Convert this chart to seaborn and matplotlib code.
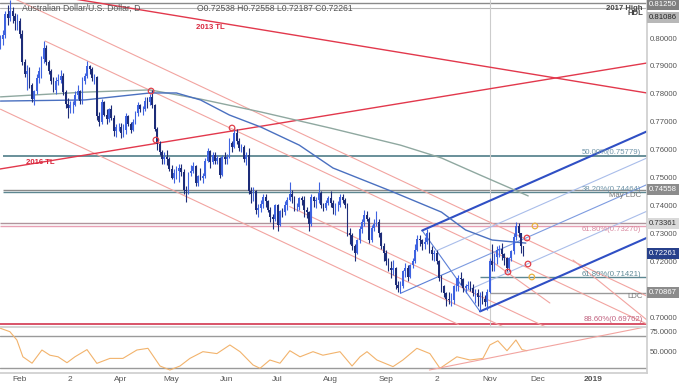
import matplotlib
matplotlib.use("Agg")
import matplotlib.pyplot as plt
import matplotlib.transforms as mtransforms
import numpy as np
import pandas as pd
import seaborn as sns

# AUD/USD daily, 22 Jan - 21 Nov 2018, prices in pips (x 1e-4); open = previous close
first_open = 7980
closes = [7995, 8010, 8085, 8070, 8095, 8080, 8060, 8060, 8015, 7915,
          7870, 7880, 7830, 7780, 7810, 7855, 7880, 7925, 7965, 7915,
          7880, 7845, 7815, 7845, 7850, 7865, 7805, 7765, 7750, 7760,
          7760, 7795, 7810, 7775, 7845, 7865, 7900, 7890, 7855, 7860,
          7720, 7700, 7770, 7725, 7710, 7745, 7715, 7665, 7680, 7680,
          7660, 7670, 7720, 7690, 7670, 7700, 7730, 7760, 7745, 7745,
          7775, 7770, 7790, 7760, 7675, 7620, 7590, 7565, 7575, 7565,
          7530, 7500, 7515, 7525, 7535, 7520, 7455, 7450, 7515, 7525,
          7540, 7480, 7505, 7500, 7505, 7560, 7595, 7555, 7580, 7560,
          7570, 7510, 7575, 7565, 7575, 7625, 7610, 7660, 7630, 7605,
          7610, 7565, 7580, 7450, 7440, 7450, 7385, 7390, 7405, 7430,
          7415, 7385, 7360, 7350, 7400, 7330, 7380, 7375, 7400, 7420,
          7440, 7430, 7395, 7395, 7425, 7420, 7385, 7375, 7335, 7430,
          7415, 7420, 7445, 7400, 7390, 7410, 7425, 7410, 7390, 7400,
          7400, 7430, 7420, 7400, 7300, 7295, 7255, 7230, 7275, 7315,
          7340, 7365, 7350, 7275, 7320, 7335, 7340, 7300, 7255, 7230,
          7200, 7175, 7170, 7175, 7115, 7105, 7110, 7165, 7175, 7145,
          7185, 7200, 7240, 7280, 7275, 7260, 7270, 7300, 7240, 7225,
          7230, 7200, 7140, 7110, 7085, 7065, 7060, 7060, 7110, 7110,
          7140, 7135, 7105, 7110, 7115, 7105, 7085, 7085, 7070, 7075,
          7065, 7055, 7090, 7200, 7185, 7215, 7240, 7245, 7225, 7210,
          7175, 7210, 7235, 7285, 7325, 7300, 7253.8, 7226.1]
highs = [8010, 8030, 8095, 8120, 8136, 8110, 8090, 8085, 8070, 8030,
         7925, 7905, 7895, 7840, 7815, 7870, 7895, 7935, 7988, 7975,
         7920, 7890, 7860, 7860, 7870, 7885, 7875, 7815, 7785, 7775,
         7775, 7810, 7830, 7815, 7860, 7875, 7917, 7905, 7895, 7870,
         7865, 7735, 7780, 7775, 7745, 7750, 7760, 7725, 7690, 7695,
         7695, 7690, 7730, 7725, 7700, 7710, 7740, 7770, 7765, 7755,
         7790, 7790, 7800, 7813, 7765, 7680, 7630, 7600, 7590, 7600,
         7575, 7545, 7530, 7540, 7550, 7550, 7530, 7470, 7520, 7545,
         7555, 7545, 7510, 7535, 7515, 7570, 7605, 7600, 7590, 7590,
         7580, 7575, 7580, 7590, 7585, 7640, 7630, 7677, 7675, 7640,
         7620, 7615, 7590, 7605, 7465, 7465, 7455, 7405, 7420, 7440,
         7440, 7420, 7395, 7370, 7405, 7405, 7385, 7390, 7415, 7430,
         7483, 7455, 7435, 7410, 7430, 7435, 7435, 7395, 7380, 7440,
         7435, 7430, 7484, 7450, 7410, 7420, 7435, 7453, 7420, 7410,
         7415, 7440, 7440, 7425, 7410, 7320, 7300, 7260, 7280, 7325,
         7350, 7384, 7380, 7360, 7330, 7350, 7381, 7350, 7305, 7265,
         7240, 7210, 7200, 7205, 7180, 7130, 7130, 7170, 7195, 7185,
         7190, 7210, 7260, 7295, 7295, 7280, 7285, 7316, 7305, 7255,
         7240, 7240, 7205, 7150, 7115, 7090, 7090, 7085, 7115, 7140,
         7150, 7160, 7140, 7120, 7130, 7130, 7120, 7100, 7100, 7090,
         7095, 7080, 7100, 7210, 7260, 7230, 7255, 7257, 7265, 7230,
         7215, 7215, 7240, 7300, 7340, 7336, 7300, 7255.8]
lows = [7960, 7975, 8000, 8045, 8060, 8055, 8030, 8030, 8000, 7905,
        7860, 7815, 7820, 7770, 7759, 7800, 7840, 7855, 7910, 7905,
        7870, 7835, 7805, 7800, 7830, 7840, 7795, 7750, 7712, 7730,
        7730, 7755, 7780, 7765, 7765, 7835, 7855, 7870, 7845, 7835,
        7705, 7685, 7690, 7720, 7690, 7700, 7705, 7650, 7645, 7665,
        7643, 7645, 7655, 7685, 7660, 7665, 7690, 7720, 7735, 7725,
        7740, 7750, 7760, 7750, 7665, 7600, 7580, 7550, 7550, 7545,
        7525, 7495, 7480, 7495, 7485, 7505, 7440, 7412, 7440, 7505,
        7515, 7470, 7470, 7490, 7480, 7500, 7555, 7535, 7550, 7550,
        7550, 7500, 7505, 7550, 7550, 7570, 7590, 7605, 7620, 7595,
        7590, 7555, 7545, 7440, 7410, 7415, 7370, 7360, 7375, 7390,
        7395, 7375, 7340, 7315, 7345, 7310, 7325, 7360, 7365, 7385,
        7415, 7410, 7380, 7380, 7385, 7400, 7360, 7355, 7310, 7325,
        7395, 7390, 7410, 7390, 7380, 7385, 7400, 7395, 7370, 7365,
        7380, 7395, 7410, 7390, 7290, 7260, 7240, 7202, 7225, 7265,
        7300, 7325, 7345, 7265, 7270, 7310, 7325, 7285, 7245, 7200,
        7185, 7165, 7140, 7150, 7100, 7090, 7085, 7105, 7145, 7130,
        7140, 7175, 7195, 7235, 7255, 7240, 7245, 7260, 7230, 7205,
        7200, 7190, 7130, 7090, 7070, 7040, 7045, 7040, 7045, 7095,
        7095, 7115, 7090, 7085, 7100, 7095, 7075, 7050, 7040, 7020,
        7045, 7040, 7025, 7085, 7165, 7165, 7190, 7215, 7205, 7185,
        7165, 7165, 7200, 7225, 7275, 7285, 7230, 7218.7]

# moving averages (day index, price)
ma_blue_idx = [0, 35, 62, 73, 83, 95, 108, 124, 138, 161, 183, 193, 204, 218]
ma_blue = [0.7774, 0.7778, 0.7803, 0.7803, 0.7778, 0.7724, 0.7681, 0.7616,
           0.7534, 0.7455, 0.7376, 0.7312, 0.7276, 0.7265]
ma_grey_idx = [0, 35, 62, 83, 108, 137, 166, 183, 199, 219]
ma_grey = [0.7789, 0.7806, 0.7814, 0.7781, 0.7735, 0.7677, 0.7616, 0.7570,
           0.7509, 0.7434]

# RSI
rsi_idx = [0, 3.9, 6.8, 9.3, 13.1, 17.2, 20.5, 23.9, 27.6, 30.9, 35.9, 40.0,
           45.4, 50.8, 56.6, 61.2, 66.2, 70.3, 74.5, 78.6, 84.0, 89.8, 95.2,
           99.4, 104.8, 107.7, 111.8, 116.0, 120.1, 124.3, 129.7, 133.8, 140.9,
           145.9, 149.2, 152.1, 156.2, 162.9, 167.0, 172.8, 178.2, 182.4, 189.4,
           194.8, 200.2, 203.1, 206.4, 210.2, 213.9, 216.4, 218.5]
rsi_val = [79.6, 75.4, 65, 44, 36, 52.5, 46, 44, 36.6, 44, 53, 35.8, 42, 42,
           52.5, 54.6, 32.5, 27.5, 32.5, 42, 50.4, 48, 58.8, 50.4, 33.8, 29.6,
           40, 36, 51.6, 44, 50.4, 46, 50.4, 32.5, 44, 50.4, 40, 31.7, 40, 54.6,
           48, 29.6, 44, 40, 42, 58.8, 64, 51.6, 65, 53, 51.6]
rsi_trend = [(178, 27.5), (268, 81.5)]

# key levels
fib_50 = 0.75779
fib_382 = 0.74464
may_ldc = 0.74558
fib_618_hi = 0.73270
level_7336 = 0.73361
fib_618_lo = 0.71421
ldc = 0.70867
fib_886 = 0.69762
high_2017 = 0.81250
hdl = 0.81086
last_close = 0.72261

# trendlines (day index, price)
tl_2013 = [(182.4, 0.79247), (268.3, 0.78029)]
tl_2016 = [(-0.2, 0.75305), (268.3, 0.79104)]
channel_slope = -0.000406
channel_lines = [((95.2, 0.77778), 0, 268), ((18.5, 0.79892), 18.5, 268),
                 ((82.8, 0.74086), 0, 190), ((176.1, 0.71680), 120, 268),
                 ((176.1, 0.70970), 120, 268)]
steep_lines = [[(203.1, 0.72043), (228.0, 0.70502)], [(237.6, 0.72043), (268.3, 0.69892)]]
pf_a = (166, 0.7085)
pf_b = (175, 0.7310)
pf_c = (199, 0.7020)

red_marks_idx = [62.5, 64.5, 96.1, 210.6, 218.5, 218.9]
red_marks = [0.7810, 0.76344, 0.76774, 0.71613, 0.72832, 0.71900]
orange_marks_idx = [221.8, 220.5]
orange_marks = [0.73262, 0.71434]

date_ticks = [8, 29, 50, 71, 94, 115, 137, 160, 181, 203, 223, 246]
date_labels = ["Feb", "2", "Apr", "May", "Jun", "Jul", "Aug", "Sep", "2", "Nov", "Dec", "2019"]
price_ticks = [0.70, 0.72, 0.73, 0.74, 0.75, 0.76, 0.77, 0.78, 0.79, 0.80]

sns.set_theme(style="white")
plt.rcParams["font.family"] = ["Liberation Sans", "DejaVu Sans"]

W, H = 679, 387
fig = plt.figure(figsize=(W / 100, H / 100), dpi=100)
fig.patch.set_facecolor("white")
ax = fig.add_axes([0, 1 - 327 / H, 647 / W, 327 / H])
rax = fig.add_axes([0, 1 - 373 / H, 647 / W, 45 / H], sharex=ax)

XMIN, XMAX = -0.2, 268.3
ax.set_xlim(XMIN, XMAX)
ax.set_ylim(0.69642, 0.81362)

df = pd.DataFrame({"close": np.array(closes) / 1e4,
                   "high": np.array(highs) / 1e4,
                   "low": np.array(lows) / 1e4})
df["open"] = df["close"].shift(1).fillna(first_open / 1e4)
df["idx"] = np.arange(len(df))
up = df["close"] >= df["open"]
cols = np.where(up, "#3f63e0", "#1d2c78")

# horizontal levels
ax.axhline(high_2017, color="#8a8a8a", lw=1.0)
ax.axhline(hdl, color="#b5b5b5", lw=0.8)
ax.hlines(fib_50, 1, XMAX, color="#5d8791", lw=1.3)
ax.hlines(may_ldc, 1, XMAX, color="#8a8a8a", lw=1.0)
ax.hlines(fib_382, 1, XMAX, color="#5d8791", lw=1.0)
ax.hlines(level_7336, 0, XMAX, color="#b0949c", lw=1.0)
ax.hlines(fib_618_hi, 0, XMAX, color="#e8a0b4", lw=1.0)
ax.hlines(fib_618_lo, 199, XMAX, color="#5d8791", lw=1.0)
ax.hlines(ldc, 203, XMAX, color="#9a9a9a", lw=1.0)
ax.axhline(fib_886, color="#d2364f", lw=1.2)
ax.axvline(203, color="#cccccc", lw=0.8)

# descending channel lines
for (x0, p0), s, e in channel_lines:
    xs = np.array([s, e])
    ax.plot(xs, p0 + channel_slope * (xs - x0), color="#f2a4a0", lw=0.8)
for (x0, p0), (x1, p1) in steep_lines:
    ax.plot([x0, x1], [p0, p1], color="#f2a4a0", lw=0.8)

# 2013 / 2016 trendlines
for (x0, p0), (x1, p1) in [tl_2013, tl_2016]:
    s = (p1 - p0) / (x1 - x0)
    xs = np.array([XMIN, XMAX])
    ax.plot(xs, p0 + s * (xs - x0), color="#e2384c", lw=1.0)

# pitchfork
mid = ((pf_b[0] + pf_c[0]) / 2, (pf_b[1] + pf_c[1]) / 2)
pf_s = (mid[1] - pf_a[1]) / (mid[0] - pf_a[0])
ax.plot([pf_a[0], mid[0]], [pf_a[1], mid[1]], color="#5b7fd6", lw=0.8)
ax.plot([pf_b[0], pf_c[0]], [pf_b[1], pf_c[1]], color="#5b7fd6", lw=0.8)
for frac, col, lw in [(0, "#2f4fc4", 1.5), (0.25, "#a9bdea", 0.8), (0.5, "#7d9be0", 0.8),
                      (0.75, "#a9bdea", 0.8), (1, "#2f4fc4", 1.5)]:
    x0 = pf_b[0] + frac * (pf_c[0] - pf_b[0])
    p0 = pf_b[1] + frac * (pf_c[1] - pf_b[1])
    ax.plot([x0, XMAX], [p0, p0 + pf_s * (XMAX - x0)], color=col, lw=lw)

# moving averages
sns.lineplot(x=ma_grey_idx, y=ma_grey, ax=ax, color="#8fa8a0", lw=1.0, sort=False)
sns.lineplot(x=ma_blue_idx, y=ma_blue, ax=ax, color="#4a70c0", lw=1.0, sort=False)

# candles
ax.vlines(df["idx"], df["low"], df["high"], colors=cols, lw=0.8, zorder=4)
body = (df["close"] - df["open"]).abs().clip(lower=0.00005)
ax.bar(df["idx"], body, bottom=df[["open", "close"]].min(axis=1), width=0.72,
       color=cols, lw=0, zorder=5)

ax.scatter(red_marks_idx, red_marks, s=16, facecolors="none", edgecolors="#e0404a", lw=0.9, zorder=6)
ax.scatter(orange_marks_idx, orange_marks, s=16, facecolors="none", edgecolors="#e8b040", lw=0.9, zorder=6)

# labels
rx = mtransforms.blended_transform_factory(ax.transAxes, ax.transData)
def lab(txt, p, dy, color, x=0.9907, **kw):
    ax.annotate(txt, xy=(x, p), xycoords=rx, xytext=(0, dy), textcoords="offset points",
                ha="right", va="center", fontsize=5.6, color=color, **kw)
lab("50.00%(0.75779)", fib_50, 2.2, "#6e93a8")
lab("38.20%(0.74464)", fib_382, 2.4, "#6e93a8")
lab("May LDC", fib_382, -2.2, "#777777")
lab("61.80%(0.73270)", fib_618_hi, -2.6, "#d88aa0")
lab("61.80%(0.71421)", fib_618_lo, 2.1, "#5f8a97")
lab("LDC", ldc, -2.6, "#777777", x=0.9938)
lab("88.60%(0.69762)", fib_886, 3.2, "#c0607e", x=0.9938)
lab("2017 High", high_2017, -3.6, "#444444", x=0.9938, fontweight="bold")
lab("HDL", hdl, -4.4, "#444444", x=0.9938, fontweight="bold")

ax.text(86.9, 0.80394, "2013 TL", color="#d9283e", fontsize=5.6, fontweight="bold", ha="center", va="center")
ax.text(16.4, 0.75520, "2016 TL", color="#d9283e", fontsize=5.6, fontweight="bold", ha="center", va="center")
ax.text(0.034, 0.9755, "Australian Dollar/U.S. Dollar, D", transform=ax.transAxes,
        fontsize=6.2, color="#555555", va="center")
o, h, l, c = df.iloc[-1][["open", "high", "low", "close"]]
ax.text(0.3045, 0.9755, f"O{o:.5f} H{h:.5f} L{l:.5f} C{c:.5f}", transform=ax.transAxes,
        fontsize=6.2, color="#555555", va="center")

# price scale
ax.yaxis.tick_right()
ax.set_yticks(price_ticks)
ax.yaxis.set_major_formatter(matplotlib.ticker.FormatStrFormatter("%.5f"))
ax.tick_params(axis="y", length=0, pad=1.8, labelsize=5.6, labelcolor="#555555")
ax.tick_params(axis="x", length=0, labelbottom=False)
# highlighted price boxes; the two 2017-high boxes are stacked as on the chart
for p, dy, bg, fg in [(high_2017, -0.8, "#7f7f7f", "white"), (hdl, -6.8, "#b8b8b8", "#222222"),
                      (may_ldc, 0, "#8c8c8c", "white"), (level_7336, 0, "#d9d9d9", "#333333"),
                      (last_close, 0, "#27408b", "white"), (ldc, 0, "#8c8c8c", "white")]:
    ax.annotate(f"{p:.5f}", xy=(1.003, p), xycoords=rx, xytext=(0, dy), textcoords="offset points",
                fontsize=5.6, color=fg, ha="left", va="center",
                bbox=dict(boxstyle="square,pad=0.25", fc=bg, ec="none"), annotation_clip=False, zorder=10)

for sp in ["top", "left"]:
    ax.spines[sp].set_visible(False)
ax.spines["right"].set_color("#cfcfcf")
ax.spines["bottom"].set_color("#cfcfcf")
ax.grid(False)

# RSI pane
rax.set_ylim(23.75, 80)
rax.axhline(70, color="#9a9a9a", lw=1.0)
rax.axhline(30, color="#9a9a9a", lw=1.0)
sns.lineplot(x=rsi_idx, y=rsi_val, ax=rax, color="#f2b36c", lw=0.8, sort=False)
rax.plot([rsi_trend[0][0], rsi_trend[1][0]], [rsi_trend[0][1], rsi_trend[1][1]], color="#f2a4a0", lw=0.8)
rax.yaxis.tick_right()
rax.set_yticks([50, 75])
rax.yaxis.set_major_formatter(matplotlib.ticker.FormatStrFormatter("%.4f"))
rax.tick_params(axis="y", length=0, pad=1.8, labelsize=5.6, labelcolor="#555555")
rax.set_xticks(date_ticks)
rax.set_xticklabels(date_labels)
rax.tick_params(axis="x", length=0, pad=2, labelsize=6, labelcolor="#555555")
rax.get_xticklabels()[-1].set_fontweight("bold")
for sp in ["top", "left"]:
    rax.spines[sp].set_visible(False)
rax.spines["right"].set_color("#cfcfcf")
rax.spines["bottom"].set_color("#cfcfcf")
rax.set_xlabel("")
rax.set_ylabel("")
ax.set_xlabel("")
ax.set_ylabel("")
rax.grid(False)

fig.savefig("out.png", dpi=100, facecolor="white")
